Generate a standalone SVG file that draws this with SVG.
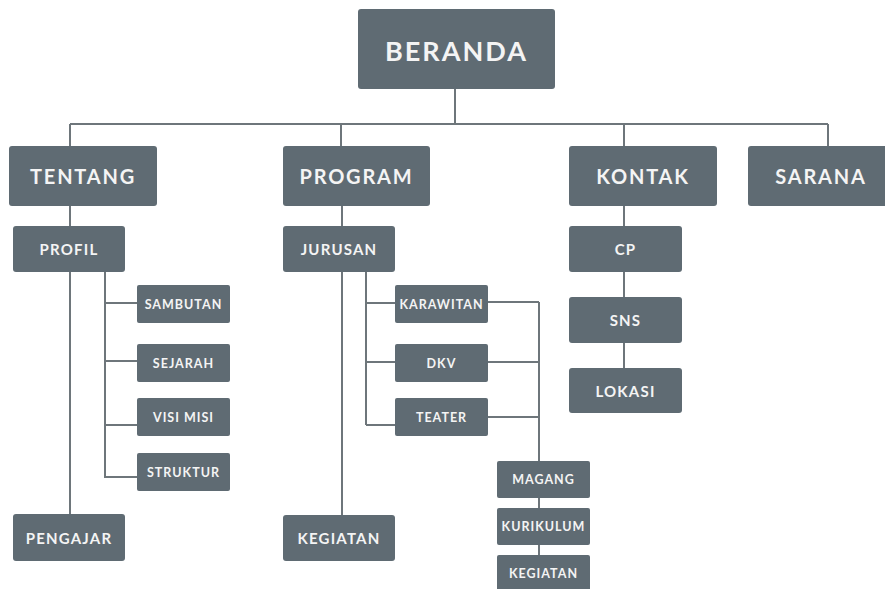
<svg xmlns="http://www.w3.org/2000/svg" width="885" height="589" viewBox="0 0 885 589">
<style>
.b{fill:#5f6b73;}
.t{fill:#f4f4f4;font-family:Lato,"Open Sans",sans-serif;font-weight:bold;text-anchor:middle;dominant-baseline:central;}
.l{stroke:#6e767b;stroke-width:2;fill:none;}
.f1{font-size:27px;letter-spacing:2px;}
.f2{font-size:20px;letter-spacing:1.8px;}
.f3{font-size:15px;letter-spacing:1.2px;}
.f4{font-size:12.5px;letter-spacing:1px;}
</style>
<rect width="885" height="589" fill="#ffffff"/>
<g id="connectors">
<path class="l" d="M455 89V124M70 124H828M70 124V146M341 124V146M624 124V146M828 124V146"/>
<path class="l" d="M70 206V226M70 272V514M105 272V478M105 303H137M105 361H137M105 425H137M105 477H137"/>
<path class="l" d="M342 206V226M342 272V515M366 272V425M366 303H395M366 362H395M366 425H395"/>
<path class="l" d="M488 302H539M488 362H539M488 417H539M539 302V461M539 498V508M539 545V555"/>
<path class="l" d="M624 206V226M624 272V297M624 343V368"/>
</g>
<g id="beranda"><rect class="b" x="358" y="9" width="197" height="80" rx="3"/><text class="t f1" x="456.5" y="50">BERANDA</text></g>
<g id="tentang"><rect class="b" x="9" y="146" width="148" height="60" rx="3"/><text class="t f2" x="83" y="176">TENTANG</text></g>
<g id="program"><rect class="b" x="283" y="146" width="147" height="60" rx="3"/><text class="t f2" x="356.5" y="176">PROGRAM</text></g>
<g id="kontak"><rect class="b" x="569" y="146" width="148" height="60" rx="3"/><text class="t f2" x="643" y="176">KONTAK</text></g>
<g id="sarana"><rect class="b" x="748" y="146" width="140" height="60" rx="3"/><text class="t f2" x="821" y="176">SARANA</text></g>
<g id="profil"><rect class="b" x="13" y="226" width="112" height="46" rx="3"/><text class="t f3" x="69" y="249">PROFIL</text></g>
<g id="pengajar"><rect class="b" x="13" y="514" width="112" height="47" rx="3"/><text class="t f3" x="69" y="538">PENGAJAR</text></g>
<g id="sambutan"><rect class="b" x="137" y="285" width="93" height="38" rx="2"/><text class="t f4" x="183.5" y="304">SAMBUTAN</text></g>
<g id="sejarah"><rect class="b" x="137" y="344" width="93" height="38" rx="2"/><text class="t f4" x="183.5" y="363">SEJARAH</text></g>
<g id="visimisi"><rect class="b" x="137" y="398" width="93" height="38" rx="2"/><text class="t f4" x="183.5" y="417">VISI MISI</text></g>
<g id="struktur"><rect class="b" x="137" y="453" width="93" height="38" rx="2"/><text class="t f4" x="183.5" y="472">STRUKTUR</text></g>
<g id="jurusan"><rect class="b" x="283" y="226" width="112" height="46" rx="3"/><text class="t f3" x="339" y="249">JURUSAN</text></g>
<g id="kegiatan1"><rect class="b" x="283" y="515" width="112" height="46" rx="3"/><text class="t f3" x="339" y="538">KEGIATAN</text></g>
<g id="karawitan"><rect class="b" x="395" y="285" width="93" height="38" rx="2"/><text class="t f4" x="441.5" y="304">KARAWITAN</text></g>
<g id="dkv"><rect class="b" x="395" y="344" width="93" height="38" rx="2"/><text class="t f4" x="441.5" y="363">DKV</text></g>
<g id="teater"><rect class="b" x="395" y="398" width="93" height="38" rx="2"/><text class="t f4" x="441.5" y="417">TEATER</text></g>
<g id="magang"><rect class="b" x="497" y="461" width="93" height="37" rx="2"/><text class="t f4" x="543.5" y="479.5">MAGANG</text></g>
<g id="kurikulum"><rect class="b" x="497" y="508" width="93" height="37" rx="2"/><text class="t f4" x="543.5" y="526.5">KURIKULUM</text></g>
<g id="kegiatan2"><rect class="b" x="497" y="555" width="93" height="38" rx="2"/><text class="t f4" x="543.5" y="573.5">KEGIATAN</text></g>
<g id="cp"><rect class="b" x="569" y="226" width="113" height="46" rx="3"/><text class="t f3" x="625.5" y="249">CP</text></g>
<g id="sns"><rect class="b" x="569" y="297" width="113" height="46" rx="3"/><text class="t f3" x="625.5" y="320">SNS</text></g>
<g id="lokasi"><rect class="b" x="569" y="368" width="113" height="45" rx="3"/><text class="t f3" x="625.5" y="390.5">LOKASI</text></g>
</svg>
